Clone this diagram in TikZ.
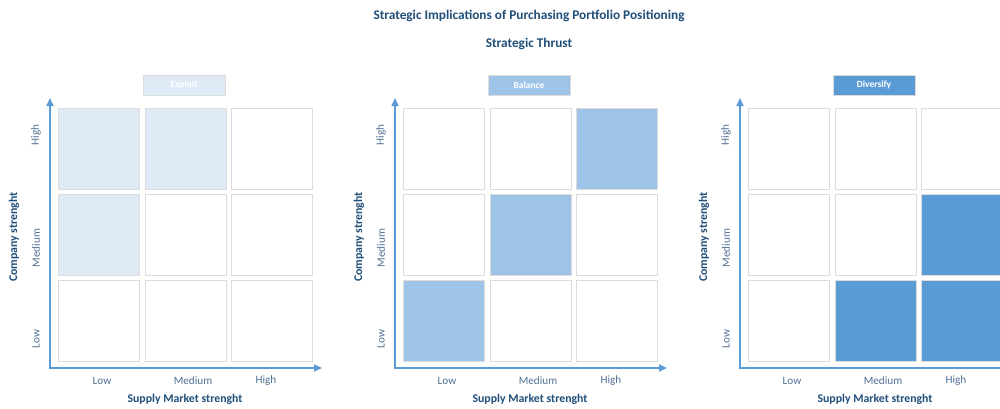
\documentclass[tikz,border=0pt]{standalone}
\usepackage{fontspec}
\setmainfont{Carlito}
\usetikzlibrary{arrows.meta}
\definecolor{titleblue}{HTML}{1F4E79}
\definecolor{axisblue}{HTML}{5B9BD5}
\definecolor{levelblue}{HTML}{4F6F94}
\definecolor{exploitfill}{HTML}{DEEAF6}
\definecolor{balancefill}{HTML}{9DC3E6}
\definecolor{diversifyfill}{HTML}{5B9BD5}
\definecolor{cellline}{HTML}{DCDCDC}
\tikzset{
 cell/.style={draw=cellline,line width=1pt,minimum size=81pt,inner sep=0pt},
 headbox/.style={draw=cellline,line width=0.8pt,minimum width=82pt,minimum height=20pt,
   inner sep=0pt,text=white,font=\bfseries\fontsize{9.5}{11}\selectfont},
 axis/.style={axisblue,line width=1.6pt,line cap=rect,-{Triangle[length=8pt,width=7pt]}},
 level/.style={text=levelblue,font=\fontsize{11.2}{13}\selectfont},
 axislabel/.style={text=titleblue,font=\bfseries\fontsize{11.8}{14}\selectfont},
 titletext/.style={text=titleblue,font=\bfseries\fontsize{13.3}{16}\selectfont},
}

\begin{document}
\begin{tikzpicture}[x=1pt,y=-1pt]
 \clip (0,0) rectangle (1000,408);

 \node[titletext] (title) at (529,16)
 {Strategic Implications of Purchasing Portfolio Positioning};
 \node[titletext] (thrust) at (529,44) {Strategic Thrust};

 % one grid per strategy, cells listed row by row from the top
 \foreach \p/\ax/\head/\hcol/\fills in {
   1/50/Exploit/exploitfill/{exploitfill,exploitfill,white,exploitfill,white,white,white,white,white},
   2/395/Balance/balancefill/{white,white,balancefill,white,balancefill,white,balancefill,white,white},
   3/740/Diversify/diversifyfill/{white,white,white,white,white,diversifyfill,white,diversifyfill,diversifyfill}}{
  \foreach \f [count=\i from 0] in \fills {
   \pgfmathtruncatemacro\row{\i/3}
   \pgfmathtruncatemacro\col{\i-3*\row}
   \node[cell,fill=\f] (cell\p-\i) at ({\ax+49+86.5*\col},{149+86*\row}) {};
  }
  \node[headbox,fill=\hcol] (head\p) at (\ax+134,85) {\head};

  \coordinate (o\p) at (\ax,368);
  \coordinate (ytip\p) at (\ax,98);
  \coordinate (xtip\p) at (\ax+272,368);
  \draw[axis] (o\p) -- (ytip\p);
  \draw[axis] (o\p) -- (xtip\p);

  \node[level] (xlow\p) at (\ax+52,381) {Low};
  \node[level] (xmed\p) at (\ax+143,381) {Medium};
  \node[level] (xhigh\p) at (\ax+216,381) {High};
  \node[axislabel] (xname\p) at (\ax+135,399) {Supply Market strenght};

  \node[level,rotate=90] (yhigh\p) at (\ax-14,135) {High};
  \node[level,rotate=90] (ymed\p) at (\ax-14,248) {Medium};
  \node[level,rotate=90] (ylow\p) at (\ax-14,339) {Low};
  \node[axislabel,rotate=90] (yname\p) at (\ax-36,237) {Company strenght};
 }
\end{tikzpicture}
\end{document}
